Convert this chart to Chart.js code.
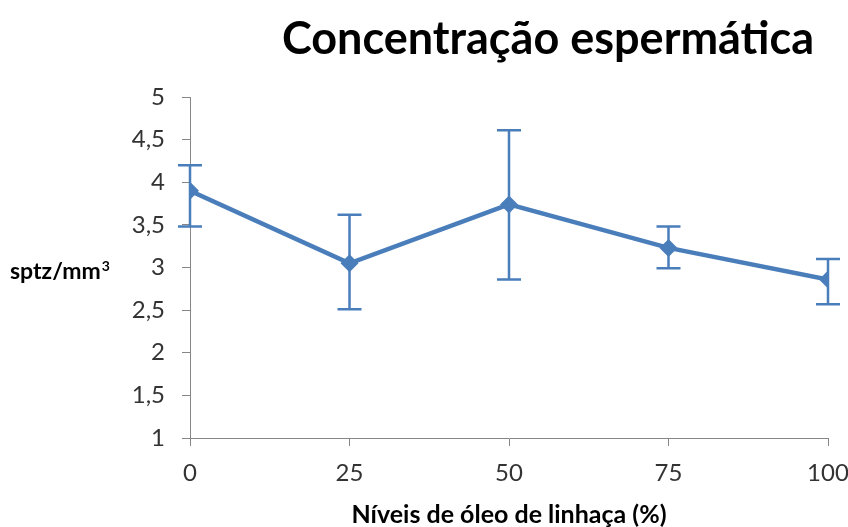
<!DOCTYPE html>
<html>
<head>
<meta charset="utf-8">
<script src="https://cdn.jsdelivr.net/npm/chart.js@4.4.1/dist/chart.umd.min.js"></script>
<style>
    html, body { margin: 0; padding: 0; background: #fff; }
    #wrap { width: 848px; height: 527px; }
</style>
</head>
<body>
<div id="wrap"><canvas id="chart"></canvas></div>
<script>
// Data
const levels = [0, 25, 50, 75, 100];
const means = [3.9, 3.05, 3.74, 3.23, 2.86];
const errLow = [3.48, 2.51, 2.86, 2.99, 2.57];
const errHigh = [4.2, 3.62, 4.61, 3.48, 3.1];

const titleText = 'Concentração espermática';
const yLabel = 'sptz/mm';
const yLabelSup = '3';
const xLabel = 'Níveis de óleo de linhaça (%)';

const blue = '#4A7EBB';
const axisGray = '#868686';
const fontFamily = 'Lato, "Open Sans", sans-serif';

// Error bars drawn through the chart's scales
const errorBars = {
    id: 'errorBars',
    afterDatasetsDraw(chart) {
        const { ctx, scales: { x, y } } = chart;
        ctx.save();
        ctx.strokeStyle = blue;
        ctx.lineWidth = 2.5;
        levels.forEach((lv, i) => {
            const px = x.getPixelForValue(lv);
            const top = y.getPixelForValue(errHigh[i]);
            const bot = y.getPixelForValue(errLow[i]);
            ctx.beginPath();
            ctx.moveTo(px, top);
            ctx.lineTo(px, bot);
            ctx.moveTo(px - 12, top);
            ctx.lineTo(px + 12, top);
            ctx.moveTo(px - 12, bot);
            ctx.lineTo(px + 12, bot);
            ctx.stroke();
        });
        ctx.restore();
    }
};

// Title and horizontal y label (mm with a raised 3)
const labels = {
    id: 'labels',
    afterDraw(chart) {
        const { ctx } = chart;
        ctx.save();
        ctx.fillStyle = '#000';
        ctx.textBaseline = 'middle';
        ctx.textAlign = 'center';
        ctx.font = 'bold 45px ' + fontFamily;
        ctx.fillText(titleText, 548, 39);
        ctx.textAlign = 'left';
        ctx.font = 'bold 23px ' + fontFamily;
        ctx.fillText(yLabel, 10, 272);
        const w = ctx.measureText(yLabel).width;
        ctx.font = 'bold 14px ' + fontFamily;
        ctx.fillText(yLabelSup, 10 + w + 1, 266);
        ctx.restore();
    }
};

const ctx = document.getElementById('chart').getContext('2d');
new Chart(ctx, {
    type: 'line',
    data: {
        datasets: [{
            data: levels.map((lv, i) => ({ x: lv, y: means[i] })),
            borderColor: blue,
            backgroundColor: blue,
            borderWidth: 4.5,
            pointStyle: 'rectRot',
            pointRadius: 9,
            pointBorderWidth: 0,
            pointBackgroundColor: blue,
            tension: 0
        }]
    },
    options: {
        responsive: true,
        maintainAspectRatio: false,
        animation: false,
        layout: { padding: { top: 97, right: 20, bottom: 0, left: 0 } },
        plugins: {
            legend: { display: false },
            tooltip: { enabled: false }
        },
        scales: {
            x: {
                type: 'linear',
                min: 0,
                max: 100,
                afterFit: (scale) => {
                    scale.height = 89;
                    scale.paddingLeft = 0;
                    scale.paddingRight = 0;
                },
                ticks: {
                    stepSize: 25,
                    padding: 13,
                    color: '#333',
                    font: { family: fontFamily, size: 24 }
                },
                grid: { drawOnChartArea: false, tickLength: 8, color: axisGray, lineWidth: 1 },
                border: { color: axisGray, width: 1 },
                title: {
                    display: true,
                    text: xLabel,
                    color: '#000',
                    padding: { top: 1, bottom: 0 },
                    font: { family: fontFamily, size: 25, weight: 'bold', lineHeight: 1 }
                }
            },
            y: {
                min: 1,
                max: 5,
                afterFit: (scale) => { scale.width = 190; },
                ticks: {
                    stepSize: 0.5,
                    padding: 17,
                    color: '#333',
                    font: { family: fontFamily, size: 24 },
                    callback: (v) => String(v).replace('.', ',')
                },
                grid: { drawOnChartArea: false, tickLength: 8, color: axisGray, lineWidth: 1 },
                border: { color: axisGray, width: 1 }
            }
        }
    },
    plugins: [errorBars, labels]
});
</script>
</body>
</html>
